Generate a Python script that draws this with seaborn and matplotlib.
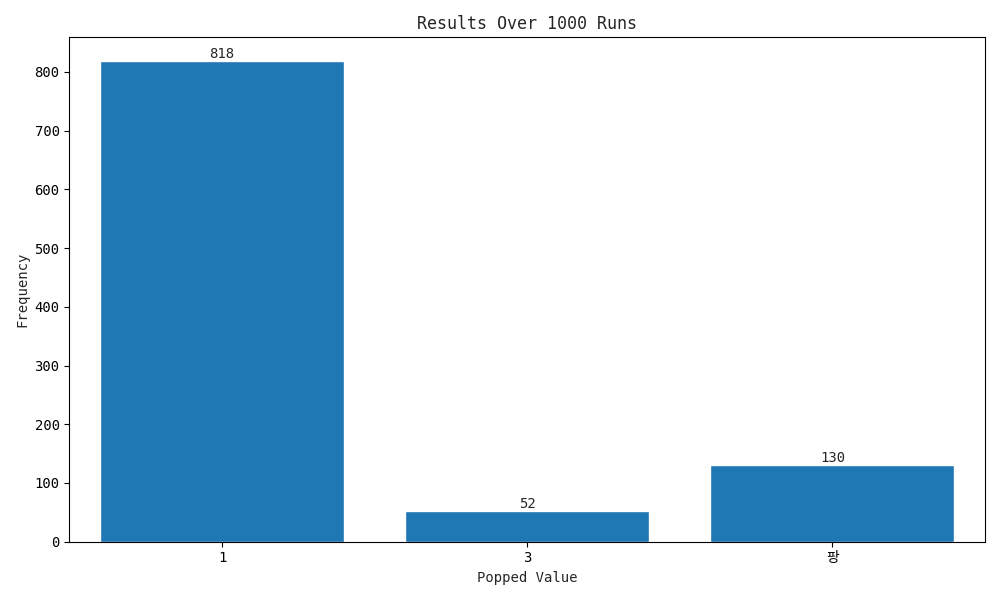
import matplotlib
matplotlib.use('Agg')
import matplotlib.pyplot as plt
import seaborn as sns
import pandas as pd

values = ['1', '3', '팡']
counts = [818, 52, 130]

sns.set_style('ticks')
plt.rcParams['font.family'] = ['DejaVu Sans Mono', 'Noto Sans CJK KR']

df = pd.DataFrame({'value': values, 'count': counts})

fig, ax = plt.subplots(figsize=(10, 6), dpi=100)
sns.barplot(data=df, x='value', y='count', color='#1f77b4', saturation=1, width=0.8, ax=ax)
for c in ax.containers:
    ax.bar_label(c, fmt='%d')
ax.set_title('Results Over 1000 Runs')
ax.set_xlabel('Popped Value')
ax.set_ylabel('Frequency')
for s in ax.spines.values():
    s.set_visible(True)
    s.set_color('black')
ax.tick_params(colors='black')

plt.tight_layout()
plt.savefig('out.png')
